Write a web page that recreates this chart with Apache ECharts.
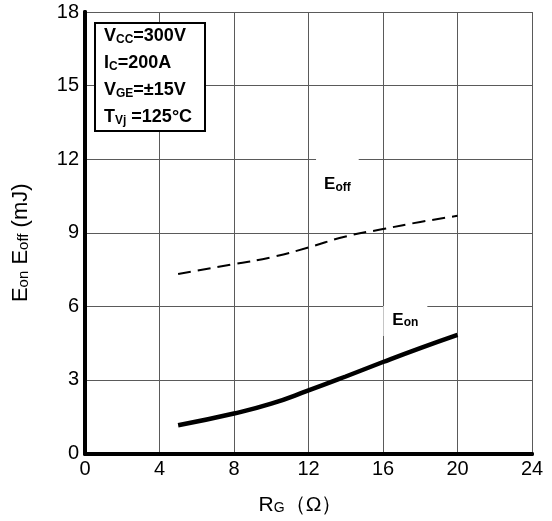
<!DOCTYPE html>
<html>
<head>
<meta charset="utf-8">
<script src="https://cdn.jsdelivr.net/npm/echarts@6/dist/echarts.min.js"></script>
<style>html,body{margin:0;padding:0;background:#fff}#c{width:552px;height:521px}</style>
</head>
<body>
<div id="c"></div>
<script>
// Data
var rg = [5, 8, 10, 12, 14, 16, 18, 20];
var eoff = [7.32, 7.72, 8.0, 8.40, 8.85, 9.15, 9.44, 9.69];
var eon = [1.15, 1.63, 2.03, 2.57, 3.14, 3.73, 4.30, 4.84];
var xTicks = [0, 4, 8, 12, 16, 20, 24];
var yTicks = [0, 3, 6, 9, 12, 15, 18];

function pairs(xs, ys) { return xs.map(function (x, i) { return [x, ys[i]]; }); }

var FONT = '"Liberation Sans", Arial, sans-serif';
var chart = echarts.init(document.getElementById('c'));
var gridLine = { show: true, lineStyle: { color: '#5a5a5a', width: 1 } };
var blackAxis = { show: true, lineStyle: { color: '#000', width: 4 } };
var box = { fontFamily: FONT, fontWeight: 'bold', color: '#000' };
function sub(size, lh, pad, bold) {
  return { fontSize: size, lineHeight: lh, padding: [pad, 0, 0, 0], fontFamily: FONT, fontWeight: bold ? 'bold' : 'normal', color: '#000' };
}

chart.setOption({
  animation: false,
  backgroundColor: '#fff',
  title: {
    left: 95, top: 18,
    borderColor: '#000', borderWidth: 2, backgroundColor: '#fff',
    padding: [5, 13, 5, 9],
    text: '{m|V}{s|CC}{m|=300V}\n{m|I}{s|C}{m|=200A}\n{m|V}{s|GE}{m|=±15V}\n{m|T}{s|Vj}{m| =125°C}',
    textStyle: {
      rich: {
        m: Object.assign({ fontSize: 18, lineHeight: 27 }, box),
        s: sub(12, 14, 6, true)
      }
    }
  },
  grid: { left: 85, right: 20, top: 12, bottom: 66 },
  xAxis: [{
    type: 'value', min: xTicks[0], max: xTicks[xTicks.length - 1], interval: 4,
    axisLine: blackAxis, axisTick: { show: false }, splitLine: gridLine,
    axisLabel: { color: '#000', fontSize: 20, fontFamily: FONT, margin: 6 },
    name: '{m|R}{s|G}{m|（Ω）}', nameLocation: 'middle', nameGap: 40,
    nameTextStyle: {
      padding: [0, 16, 0, 0],
      rich: {
        m: { fontSize: 21, lineHeight: 24, fontFamily: FONT, color: '#000' },
        s: sub(14, 16, 6, false)
      }
    }
  }, {
    type: 'value', position: 'top', min: 0, max: 24, interval: 4,
    axisLine: blackAxis, axisTick: { show: false }, axisLabel: { show: false }, splitLine: { show: false }
  }],
  yAxis: [{
    type: 'value', min: yTicks[0], max: yTicks[yTicks.length - 1], interval: 3,
    axisLine: blackAxis, axisTick: { show: false }, splitLine: gridLine,
    axisLabel: { color: '#000', fontSize: 20, fontFamily: FONT, margin: 6 },
    name: '{m|E}{s|on}{m| E}{s|off}{m| (mJ)}', nameLocation: 'middle', nameGap: 52, nameRotate: 90,
    nameTextStyle: {
      padding: [0, 20, 0, 0],
      rich: {
        m: { fontSize: 22, lineHeight: 25, fontFamily: FONT, color: '#000' },
        s: sub(15, 17, 6, false)
      }
    }
  }, {
    type: 'value', position: 'right', min: 0, max: 18, interval: 3,
    axisLine: blackAxis, axisTick: { show: false }, axisLabel: { show: false }, splitLine: { show: false }
  }],
  series: [{
    name: 'Eoff', type: 'line', smooth: true, symbol: 'none',
    data: pairs(rg, eoff),
    lineStyle: { color: '#000', width: 2, type: [13, 7] },
    markPoint: {
      symbol: 'rect', symbolSize: 0, silent: true,
      data: [{ coord: [13.55, 11.26] }],
      label: {
        show: true, position: 'inside', backgroundColor: '#fff', padding: [20, 8, 6, 8],
        formatter: '{m|E}{s|off}',
        rich: {
          m: { fontSize: 17, lineHeight: 20, fontFamily: FONT, fontWeight: 'bold', color: '#000' },
          s: sub(12, 13, 6, true)
        }
      }
    }
  }, {
    name: 'Eon', type: 'line', smooth: true, symbol: 'none',
    data: pairs(rg, eon),
    lineStyle: { color: '#000', width: 4.5 },
    markPoint: {
      symbol: 'rect', symbolSize: 0, silent: true,
      data: [{ coord: [17.2, 5.4] }],
      label: {
        show: true, position: 'inside', backgroundColor: '#fff', padding: [4, 9, 6, 9],
        formatter: '{m|E}{s|on}',
        rich: {
          m: { fontSize: 17, lineHeight: 20, fontFamily: FONT, fontWeight: 'bold', color: '#000' },
          s: sub(12, 13, 6, true)
        }
      }
    }
  }]
});
</script>
</body>
</html>
